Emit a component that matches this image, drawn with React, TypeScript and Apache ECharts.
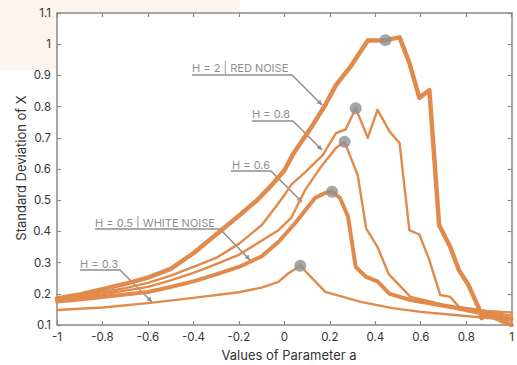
import React, { useEffect, useRef } from "react";
import * as echarts from "echarts";

// ---- data ----
const xTicks = [-1, -0.8, -0.6, -0.4, -0.2, 0, 0.2, 0.4, 0.6, 0.8, 1];

const lineH2: [number, number][] = [
  [-1, 0.185], [-0.9, 0.198], [-0.8, 0.215], [-0.7, 0.232], [-0.6, 0.252], [-0.5, 0.28],
  [-0.4, 0.33], [-0.3, 0.39], [-0.2, 0.45], [-0.12, 0.5], [-0.06, 0.545], [0, 0.595],
  [0.04, 0.65], [0.12, 0.735], [0.18, 0.805], [0.227, 0.869], [0.293, 0.93], [0.367, 1.012],
  [0.445, 1.013], [0.507, 1.022], [0.55, 0.94], [0.594, 0.828], [0.638, 0.853], [0.681, 0.42],
  [0.73, 0.35], [0.768, 0.276], [0.81, 0.228], [0.855, 0.155], [0.868, 0.122], [0.88, 0.138],
  [0.95, 0.115], [1, 0.1],
];
const lineH08: [number, number][] = [
  [-1, 0.18], [-0.9, 0.192], [-0.8, 0.205], [-0.7, 0.218], [-0.6, 0.235], [-0.5, 0.258],
  [-0.4, 0.286], [-0.3, 0.315], [-0.2, 0.36], [-0.1, 0.42], [-0.026, 0.49], [0.004, 0.52],
  [0.03, 0.549], [0.092, 0.59], [0.17, 0.645], [0.227, 0.715], [0.27, 0.727], [0.314, 0.795],
  [0.367, 0.7], [0.41, 0.79], [0.463, 0.72], [0.507, 0.683], [0.55, 0.404], [0.594, 0.39],
  [0.638, 0.308], [0.686, 0.196], [0.73, 0.19], [0.768, 0.158], [0.89, 0.145], [1, 0.14],
];
const lineH06: [number, number][] = [
  [-1, 0.178], [-0.9, 0.188], [-0.8, 0.198], [-0.7, 0.21], [-0.6, 0.222], [-0.5, 0.243],
  [-0.4, 0.267], [-0.3, 0.295], [-0.2, 0.325], [-0.1, 0.37], [-0.026, 0.404], [0.03, 0.443],
  [0.092, 0.533], [0.16, 0.606], [0.227, 0.667], [0.265, 0.687], [0.323, 0.58], [0.36, 0.41],
  [0.41, 0.35], [0.46, 0.262], [0.555, 0.19], [0.7, 0.165], [0.85, 0.147], [1, 0.13],
];
const lineH05: [number, number][] = [
  [-1, 0.175], [-0.9, 0.182], [-0.8, 0.19], [-0.7, 0.198], [-0.6, 0.206], [-0.5, 0.222],
  [-0.4, 0.24], [-0.3, 0.262], [-0.2, 0.286], [-0.1, 0.32], [-0.026, 0.366], [0.048, 0.427],
  [0.135, 0.507], [0.179, 0.523], [0.21, 0.527], [0.245, 0.507], [0.28, 0.448], [0.314, 0.286],
  [0.36, 0.254], [0.41, 0.24], [0.463, 0.2], [0.555, 0.18], [0.65, 0.168], [0.75, 0.155],
  [0.85, 0.14], [1, 0.12],
];
const lineH03: [number, number][] = [
  [-1, 0.148], [-0.8, 0.156], [-0.6, 0.17], [-0.4, 0.187], [-0.2, 0.205], [-0.1, 0.22],
  [-0.026, 0.238], [0.017, 0.265], [0.07, 0.29], [0.18, 0.206], [0.336, 0.174], [0.476, 0.154],
  [0.6, 0.142], [0.75, 0.132], [0.9, 0.122], [1, 0.115],
];
const peaks: [number, number][] = [
  [0.445, 1.013], [0.314, 0.795], [0.265, 0.687], [0.21, 0.527], [0.07, 0.29],
];
const seriesNames = ["H = 2", "H = 0.8", "H = 0.6", "H = 0.5", "H = 0.3"];
const labelTexts = ["H = 2 | RED NOISE", "H = 0.8", "H = 0.6", "H = 0.5 | WHITE NOISE", "H = 0.3"];

// ---- annotation layout (pixels) ----
const annoLayout = [
  { tx: 192, ty: 68, u1: 192, u2: 292, uy: 75, ax: 322, ay: 105 },
  { tx: 252, ty: 114, u1: 252, u2: 293, uy: 121, ax: 322, ay: 150 },
  { tx: 232, ty: 165, u1: 231, u2: 271, uy: 171, ax: 302, ay: 202 },
  { tx: 95, ty: 223, u1: 95, u2: 220, uy: 229, ax: 250, ay: 260 },
  { tx: 80, ty: 264, u1: 80, u2: 120, uy: 270, ax: 152, ay: 302 },
];

const ORANGE = "#e08a4b";
const GRAY = "#8e8e8e";
const AXIS = "#8a8a8a";
const FONT = "Inter, 'Noto Sans', sans-serif";

export default function App() {
  const ref = useRef<HTMLDivElement>(null);
  useEffect(() => {
    if (!ref.current) return;
    const chart = echarts.init(ref.current, undefined, { renderer: "svg" });

    const graphics: any[] = [];
    annoLayout.forEach((a, i) => {
      graphics.push({
        type: "text",
        x: a.tx,
        y: a.ty,
        style: {
          text: labelTexts[i],
          fill: GRAY,
          font: `11px ${FONT}`,
          textAlign: "left",
          textVerticalAlign: "middle",
        },
      });
      graphics.push({
        type: "polyline",
        shape: { points: [[a.u1, a.uy], [a.u2, a.uy], [a.ax, a.ay]] },
        style: { stroke: GRAY, lineWidth: 1.5, fill: null },
      });
      const ang = Math.atan2(a.ay - a.uy, a.ax - a.u2);
      const L = 5, W = 2.6;
      const bx = a.ax - L * Math.cos(ang), by = a.ay - L * Math.sin(ang);
      const px = -Math.sin(ang) * W, py = Math.cos(ang) * W;
      graphics.push({
        type: "polygon",
        shape: { points: [[a.ax, a.ay], [bx + px, by + py], [bx - px, by - py]] },
        style: { fill: GRAY },
      });
    });
    graphics.push({
      type: "text",
      x: 289,
      y: 355,
      style: {
        text: "Values of Parameter a",
        fill: "#333",
        font: `13px ${FONT}`,
        textAlign: "center",
        textVerticalAlign: "middle",
      },
    });
    graphics.push({
      type: "text",
      x: 21,
      y: 168,
      rotation: Math.PI / 2,
      style: {
        text: "Standard Deviation of X",
        fill: "#333",
        font: `13px ${FONT}`,
        textAlign: "center",
        textVerticalAlign: "middle",
      },
    });

    const lines = [lineH2, lineH08, lineH06, lineH05, lineH03];
    const widths = [4.5, 2.4, 2.4, 4, 2.4];

    const axisCommon = {
      axisLine: { show: true, onZero: false, lineStyle: { color: AXIS, width: 1.5 } },
      axisTick: { show: true, inside: true, length: 4, lineStyle: { color: AXIS, width: 1.2 } },
      splitLine: { show: false },
    };

    chart.setOption({
      animation: false,
      backgroundColor: "transparent",
      grid: {
        left: 57,
        right: 2,
        top: 13,
        bottom: 40,
        show: true,
        backgroundColor: "#ffffff",
        borderWidth: 0,
      },
      xAxis: [
        {
          type: "value",
          min: xTicks[0],
          max: xTicks[xTicks.length - 1],
          interval: 0.2,
          ...axisCommon,
          axisLabel: {
            color: "#333",
            fontSize: 11.5,
            fontFamily: FONT,
            margin: 6,
            formatter: (v: number) => String(Math.round(v * 10) / 10),
          },
        },
        {
          type: "value",
          position: "top",
          min: -1,
          max: 1,
          interval: 0.2,
          ...axisCommon,
          axisLabel: { show: false },
        },
      ],
      yAxis: [
        {
          type: "value",
          min: 0.1,
          max: 1.1,
          interval: 0.1,
          ...axisCommon,
          axisLabel: {
            color: "#333",
            fontSize: 11.5,
            fontFamily: FONT,
            margin: 6,
            formatter: (v: number) => String(Math.round(v * 10) / 10),
          },
        },
        {
          type: "value",
          position: "right",
          min: 0.1,
          max: 1.1,
          interval: 0.1,
          ...axisCommon,
          axisLabel: { show: false },
        },
      ],
      series: [
        ...lines.map((d, i) => ({
          name: seriesNames[i],
          type: "line",
          data: d,
          showSymbol: false,
          symbol: "none",
          smooth: false,
          lineStyle: { color: ORANGE, width: widths[i], join: "round", cap: "round" },
          clip: true,
          z: 2,
        })),
        {
          name: "peaks",
          type: "scatter",
          data: peaks,
          symbolSize: 12,
          itemStyle: { color: GRAY },
          z: 5,
        },
      ],
      graphic: graphics,
    });
    return () => chart.dispose();
  }, []);

  return (
    <div style={{ position: "fixed", left: 0, top: 0, width: 517, height: 365, background: "#ffffff" }}>
      <div style={{ position: "absolute", left: 0, top: 0, width: 240, height: 70, background: "#fcf4ee" }} />
      <div ref={ref} style={{ position: "absolute", left: 0, top: 0, width: 517, height: 365 }} />
    </div>
  );
}
